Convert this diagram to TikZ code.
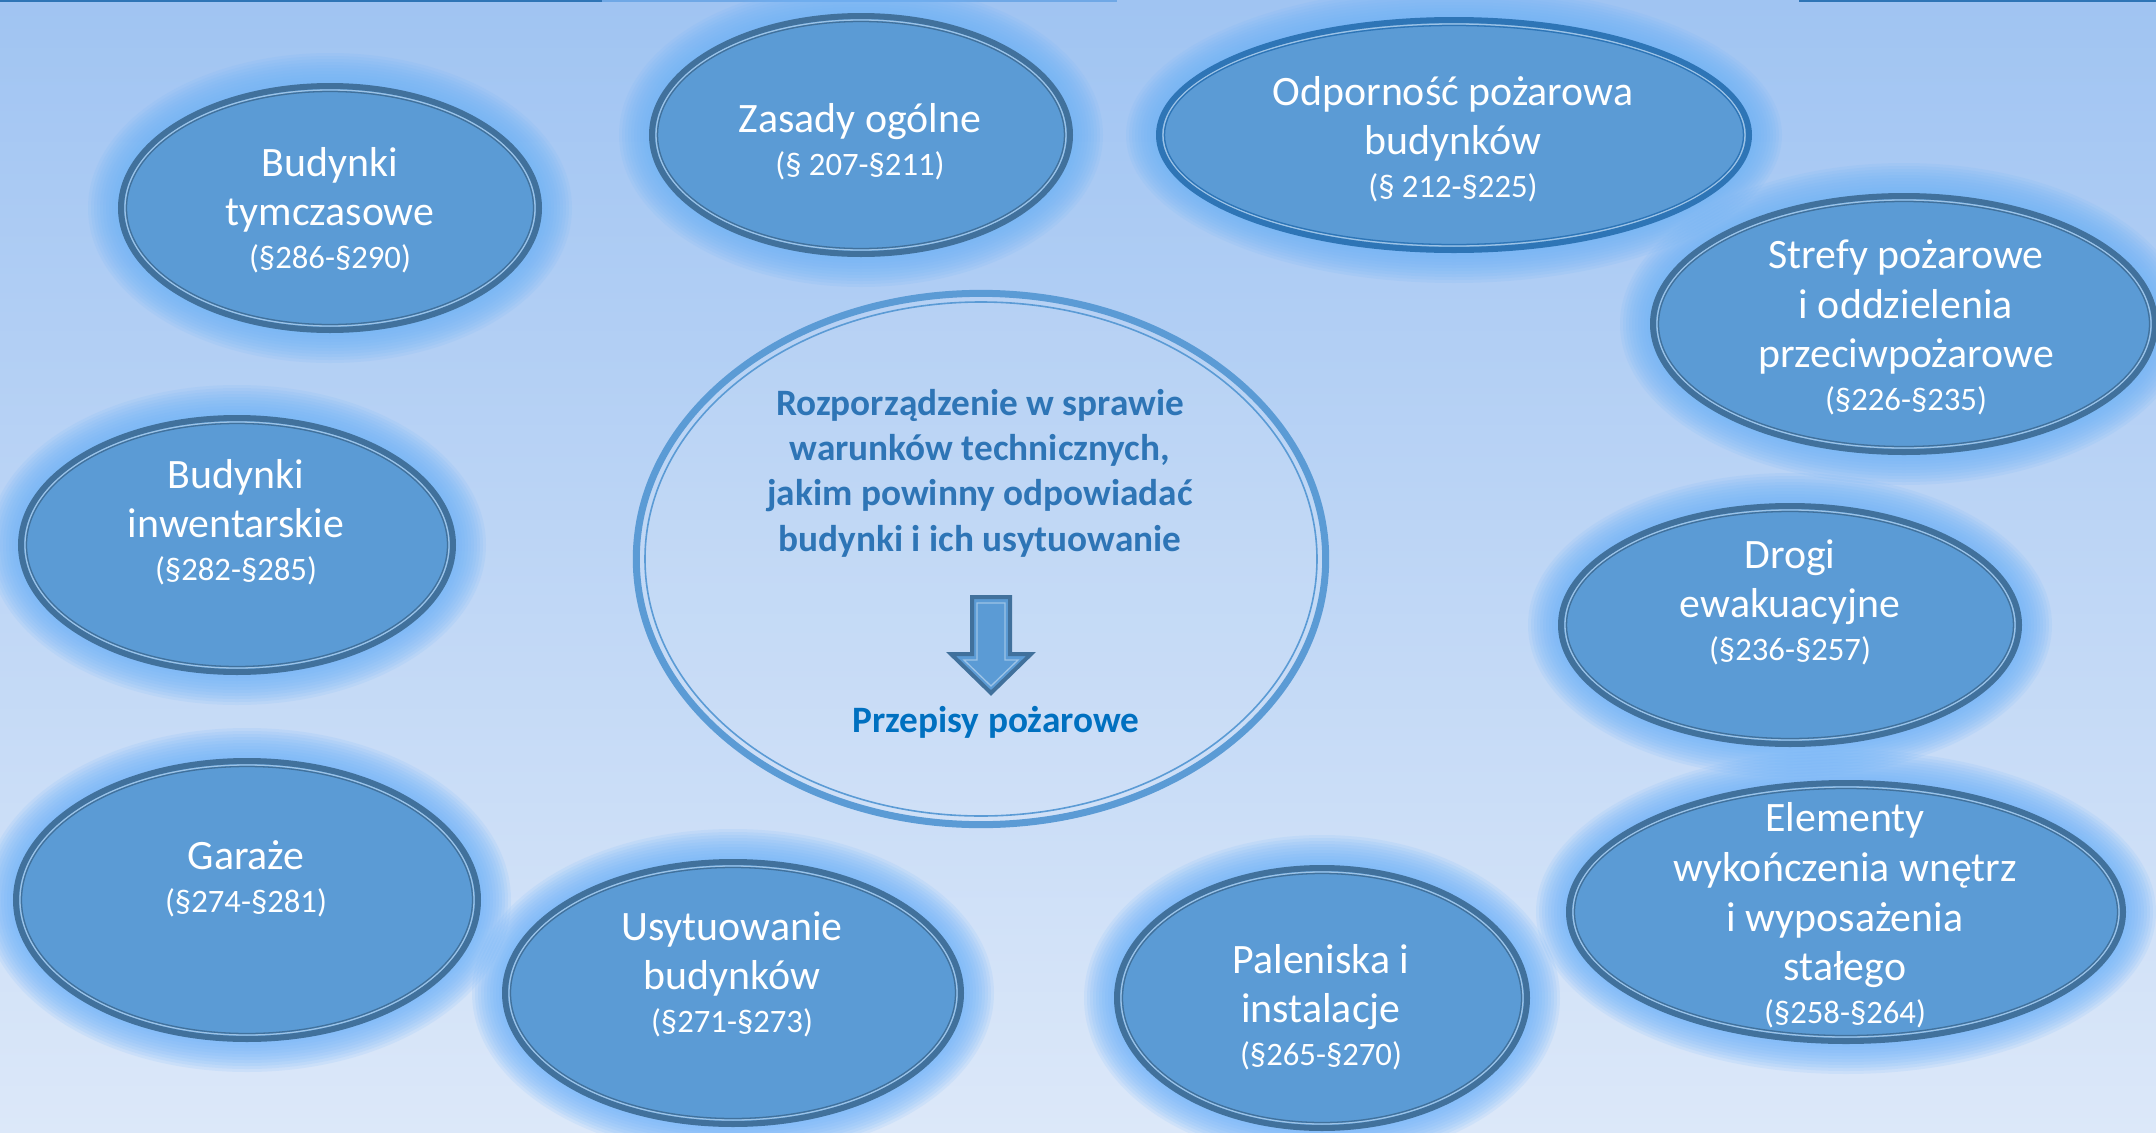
\documentclass[tikz,border=0pt]{standalone}
\usepackage{fontspec}
\setmainfont{Carlito}
\usetikzlibrary{shapes.geometric}
\definecolor{bgtop}{HTML}{A0C4F2}
\definecolor{bgbottom}{HTML}{DCE8F9}
\definecolor{blobfill}{HTML}{5B9BD5}
\definecolor{rimgrey}{HTML}{41719C}
\definecolor{rimblue}{HTML}{2E75B6}
\definecolor{rimlight}{HTML}{9DC3E6}
\definecolor{glowblue}{HTML}{70B4FA}
\definecolor{hubring}{HTML}{5B9BD5}
\definecolor{hubblue}{HTML}{2E75B6}
\definecolor{fireblue}{HTML}{0070C0}
\definecolor{edgelight}{HTML}{6FA8E6}

% name / centre x / centre y / x radius / y radius / rim colour
\def\blobs{tym/330/208/212/125/rimgrey, zas/861/135/212/122/rimgrey,
  odp/1454/135/298/118/rimblue, str/1904/324/254/131/rimgrey,
  inw/237/545/219/130/rimgrey, dro/1790/625/232/122/rimgrey,
  gar/247/900/234/142/rimgrey, usy/733/993/231/134/rimgrey,
  pal/1322/998/208/133/rimgrey, ele/1846/912/280/132/rimgrey}
\newcommand\paras[1]{\\[-2.25pt]{\fontsize{9.3}{11}\selectfont #1}}

\begin{document}
\begin{tikzpicture}[
  x=0.01cm, y=-0.01cm,
  blob/.style={ellipse, fill=blobfill, line width=0.06cm, inner sep=0pt, outer sep=0pt},
  hub/.style={ellipse, draw=hubring, fill=white, fill opacity=0.08, line width=0.07cm,
              inner sep=0pt, outer sep=0pt},
  lbl/.style={text=white, align=center, inner sep=0pt, anchor=base,
              font=\fontsize{11.9}{14.2}\selectfont},
  hubtxt/.style={lbl, text=hubblue, font=\bfseries\fontsize{10.6}{12.8}\selectfont},
  thin/.style={line width=0.013cm}
]
% ----- background -----
\useasboundingbox (0,0) rectangle (2156,1133);
\clip (0,0) rectangle (2156,1133);
\shade[top color=bgtop, bottom color=bgbottom] (0,0) rectangle (2156,1133);
\fill[rimblue] (0,0) rectangle (602,2);
\fill[edgelight] (602,0) rectangle (1117,2);
\fill[rimblue] (1799,0) rectangle (2156,2);
% ----- glow round the topic ellipses -----
\foreach \n/\x/\y/\rx/\ry/\rc in \blobs{
  \foreach \g in {10,...,1}{\fill[glowblue, opacity=0.13] (\x,\y) ellipse [x radius=\rx+3*\g, y radius=\ry+3*\g];}
}
% ----- topic ellipses, double rim -----
\foreach \n/\x/\y/\rx/\ry/\rc in \blobs{
  \node[blob, draw=\rc, minimum width={(2*\rx-6)*0.01cm}, minimum height={(2*\ry-6)*0.01cm}] (\n) at (\x,\y) {};
  \draw[thin, rimlight] (\n.center) ellipse [x radius=\rx-7, y radius=\ry-7];
  \draw[thin, \rc] (\n.center) ellipse [x radius=\rx-8.5, y radius=\ry-8.5];
}
% ----- central regulation -----
\node[hub, minimum width=6.89cm, minimum height=5.31cm] (hub) at (981,559) {};
\draw[thin, hubring, line width=0.016cm] (hub.center) ellipse [x radius=336, y radius=257];
\node[hubtxt] (title) at (980,551) {Rozporządzenie w sprawie\\warunków technicznych,\\jakim powinny odpowiadać\\budynki i ich usytuowanie};
\draw[fill=blobfill, draw=rimgrey, line width=0.04cm, line join=miter]
  (972,597) -- (1010,597) -- (1010,654) -- (1031,654) -- (991,693) -- (951,654) -- (972,654) -- cycle;
\draw[thin, rimlight] (977,603) -- (1005,603) -- (1005,660) -- (1018,660) -- (991,686) -- (964,660) -- (977,660) -- cycle;
\node[hubtxt, text=fireblue] (fire) at (996,732) {Przepisy pożarowe};
% ----- labels (placed by the baseline of the last line) -----
\node[lbl] (tym-t) at (330,268) {Budynki\\tymczasowe\paras{(§286-§290)}};
\node[lbl] (zas-t) at (860,175) {Zasady ogólne\paras{(§ 207-§211)}};
\node[lbl] (odp-t) at (1453,197) {Odporność pożarowa\\budynków\paras{(§ 212-§225)}};
\node[lbl] (str-t) at (1906,410) {Strefy pożarowe\\i oddzielenia\\przeciwpożarowe\paras{(§226-§235)}};
\node[lbl] (inw-t) at (236,580) {Budynki\\inwentarskie\paras{(§282-§285)}};
\node[lbl] (dro-t) at (1790,660) {Drogi\\ewakuacyjne\paras{(§236-§257)}};
\node[lbl] (gar-t) at (246,912) {Garaże\paras{(§274-§281)}};
\node[lbl] (usy-t) at (732,1032) {Usytuowanie\\budynków\paras{(§271-§273)}};
\node[lbl] (pal-t) at (1321,1065) {Paleniska i\\instalacje\paras{(§265-§270)}};
\node[lbl] (ele-t) at (1845,1023) {Elementy\\wykończenia wnętrz\\i wyposażenia\\stałego\paras{(§258-§264)}};
\end{tikzpicture}
\end{document}
